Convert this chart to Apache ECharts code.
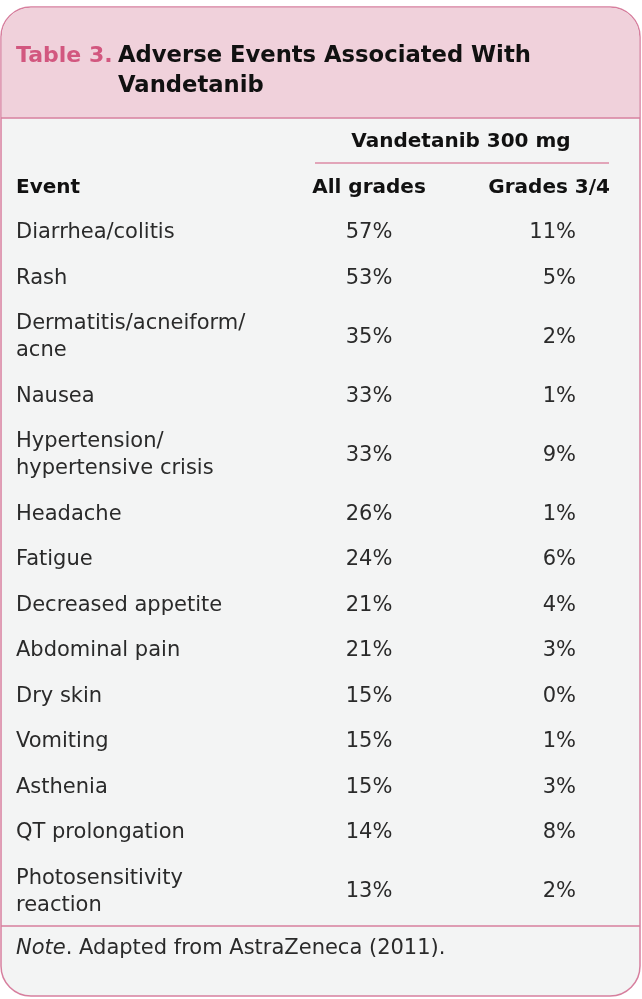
<!DOCTYPE html>
<html>
<head>
<meta charset="utf-8">
<script src="https://cdn.jsdelivr.net/npm/echarts@6/dist/echarts.min.js"></script>
<style>
  html, body { margin: 0; padding: 0; background: #fff; }
  #main { width: 642px; height: 999px; }
</style>
</head>
<body>
<div id="main"></div>
<script>
// table data
const events = [
  'Diarrhea/colitis',
  'Rash',
  'Dermatitis/acneiform/\nacne',
  'Nausea',
  'Hypertension/\nhypertensive crisis',
  'Headache',
  'Fatigue',
  'Decreased appetite',
  'Abdominal pain',
  'Dry skin',
  'Vomiting',
  'Asthenia',
  'QT prolongation',
  'Photosensitivity\nreaction'
]
const allGrades = [57, 53, 35, 33, 33, 26, 24, 21, 21, 15, 15, 15, 14, 13]
const grades34 = [11, 5, 2, 1, 9, 1, 6, 4, 3, 0, 1, 3, 8, 2]
const columnHeaders = ['Event', 'All grades', 'Grades 3/4']
const groupHeader = 'Vandetanib 300 mg'
const noteText = 'Adapted from AstraZeneca (2011).'

const chart = echarts.init(document.getElementById('main'))

const PINK = '#d2577f'
const BORDER = '#d77f9e'
const FONT = '"DejaVu Sans", sans-serif'
const FS = 21
const BODY = `normal ${FS}px ${FONT}`
const HEAD = `bold 20px ${FONT}`
const INK = '#2a2a2a'

// build rows (first line of each row, extra lines add 27px)
const rowGraphics = []
let y = 233
events.forEach((name, i) => {
  const lines = name.split('\n')
  const mid = y + (lines.length - 1) * 13.5
  lines.forEach((line, k) => {
    rowGraphics.push({
      type: 'text', x: 16, y: y + k * 27,
      style: { text: line, font: BODY, fill: INK, verticalAlign: 'middle' }
    })
  })
  rowGraphics.push({
    type: 'text', x: 369, y: mid,
    style: { text: allGrades[i] + '%', font: BODY, fill: INK, align: 'center', verticalAlign: 'middle' }
  })
  rowGraphics.push({
    type: 'text', x: 576, y: mid,
    style: { text: grades34[i] + '%', font: BODY, fill: INK, align: 'right', verticalAlign: 'middle' }
  })
  y += (lines.length - 1) * 27 + 45.5
})

const option = {
  animation: false,
  graphic: [
    // body
    {
      type: 'rect',
      shape: { x: 1, y: 7, width: 639, height: 989, r: 30 },
      style: { fill: '#f3f4f4', stroke: BORDER, lineWidth: 1.5 }
    },
    // header band
    {
      type: 'rect',
      shape: { x: 1.75, y: 7.75, width: 637.5, height: 110, r: [29, 29, 0, 0] },
      style: { fill: '#f0d1db' }
    },
    {
      type: 'line',
      shape: { x1: 1, y1: 118, x2: 640, y2: 118 },
      style: { stroke: BORDER, lineWidth: 1.5 }
    },
    {
      type: 'text', x: 16, y: 56,
      style: { text: 'Table 3.', font: `bold 22px ${FONT}`, fill: PINK, verticalAlign: 'middle' }
    },
    {
      type: 'text', x: 118, y: 56,
      style: { text: 'Adverse Events Associated With', font: `bold 22.7px ${FONT}`, fill: '#111', verticalAlign: 'middle' }
    },
    {
      type: 'text', x: 118, y: 86,
      style: { text: 'Vandetanib', font: `bold 22.7px ${FONT}`, fill: '#111', verticalAlign: 'middle' }
    },
    // column headers
    {
      type: 'text', x: 461, y: 142,
      style: { text: groupHeader, font: HEAD, fill: '#111', align: 'center', verticalAlign: 'middle' }
    },
    {
      type: 'line',
      shape: { x1: 315, y1: 163, x2: 609, y2: 163 },
      style: { stroke: PINK, lineWidth: 1.2 }
    },
    {
      type: 'text', x: 16, y: 188,
      style: { text: columnHeaders[0], font: HEAD, fill: '#111', verticalAlign: 'middle' }
    },
    {
      type: 'text', x: 369, y: 188,
      style: { text: columnHeaders[1], font: HEAD, fill: '#111', align: 'center', verticalAlign: 'middle' }
    },
    {
      type: 'text', x: 610, y: 188,
      style: { text: columnHeaders[2], font: HEAD, fill: '#111', align: 'right', verticalAlign: 'middle' }
    },
    ...rowGraphics,
    // footer
    {
      type: 'line',
      shape: { x1: 1, y1: 926, x2: 640, y2: 926 },
      style: { stroke: BORDER, lineWidth: 1.5 }
    },
    {
      type: 'text', x: 16, y: 949,
      style: {
        text: '{i|Note}. ' + noteText,
        verticalAlign: 'middle',
        font: BODY, fill: INK,
        rich: { i: { font: `italic normal ${FS}px ${FONT}`, fill: INK } }
      }
    }
  ]
}

chart.setOption(option)
</script>
</body>
</html>
